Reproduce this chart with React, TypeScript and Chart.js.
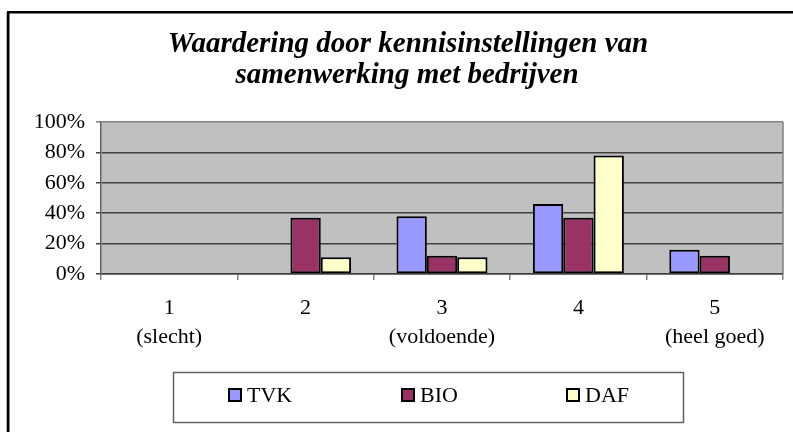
import React, { useEffect, useRef } from "react";
import { Chart, registerables } from "chart.js";

Chart.register(...registerables);

const titleLines = ["Waardering door kennisinstellingen van", "samenwerking met bedrijven"];
const categories: (string | string[])[] = [["1", "(slecht)"], ["2"], ["3", "(voldoende)"], ["4"], ["5", "(heel goed)"]];
const seriesNames = ["TVK", "BIO", "DAF"];
const tvkValues = [0, 0, 38, 46, 16];
const bioValues = [0, 37, 12, 37, 12];
const dafValues = [0, 11, 11, 78, 0];
const seriesColors = ["#9999FF", "#993366", "#FFFFCC"];
const yTicks = [0, 20, 40, 60, 80, 100];

const FONT = "'Liberation Serif', 'Times New Roman', serif";

const decorPlugin = {
  id: "decor",
  beforeDraw(chart: any) {
    const { ctx, chartArea } = chart;
    ctx.save();
    ctx.fillStyle = "#ffffff";
    ctx.fillRect(0, 0, chart.width, chart.height);
    ctx.fillStyle = "#C0C0C0";
    ctx.fillRect(chartArea.left, chartArea.top, chartArea.right - chartArea.left, chartArea.bottom - chartArea.top);
    ctx.restore();
  },
  afterDraw(chart: any) {
    const { ctx, chartArea } = chart;
    ctx.save();
    // plot right border
    ctx.strokeStyle = "#808080";
    ctx.lineWidth = 1.5;
    ctx.beginPath();
    ctx.moveTo(chartArea.right, chartArea.top);
    ctx.lineTo(chartArea.right, chartArea.bottom);
    ctx.stroke();
    // outer frame
    ctx.strokeStyle = "#000";
    ctx.lineWidth = 2.5;
    ctx.beginPath();
    ctx.moveTo(8.25, chart.height + 5);
    ctx.lineTo(8.25, 12.25);
    ctx.lineTo(chart.width + 5, 12.25);
    ctx.stroke();
    ctx.fillStyle = "#b0b0b0";
    ctx.fillRect(6, 12, 1, chart.height);
    // title
    ctx.fillStyle = "#000";
    ctx.font = `italic bold 29px ${FONT}`;
    ctx.textAlign = "center";
    ctx.textBaseline = "alphabetic";
    ctx.fillText(titleLines[0], 408, 52);
    ctx.fillText(titleLines[1], 407, 83);
    // legend
    const lx = 173, ly = 372, lw = 510, lh = 50;
    ctx.strokeStyle = "#606060";
    ctx.lineWidth = 1.5;
    ctx.strokeRect(lx + 0.5, ly + 0.5, lw, lh);
    const markerX = [228, 401, 566];
    ctx.font = `22px ${FONT}`;
    ctx.textAlign = "left";
    ctx.textBaseline = "middle";
    chart.data.datasets.forEach((ds: any, i: number) => {
      const mx = markerX[i];
      ctx.fillStyle = "#000";
      ctx.fillRect(mx, 388, 14, 14);
      ctx.fillStyle = ds.backgroundColor;
      ctx.fillRect(mx + 2, 390, 10, 10);
      ctx.fillStyle = "#000";
      ctx.fillText(ds.label, mx + 19, 396);
    });
    ctx.restore();
  },
};

export default function App() {
  const ref = useRef<HTMLCanvasElement>(null);
  useEffect(() => {
    if (!ref.current) return;
    const valuesList = [tvkValues, bioValues, dafValues];
    const chart = new Chart(ref.current, {
      type: "bar",
      data: {
        labels: categories,
        datasets: seriesNames.map((name, i) => ({
          label: name,
          data: valuesList[i],
          backgroundColor: seriesColors[i],
          borderColor: "#000",
          borderWidth: 2,
          borderSkipped: false,
          categoryPercentage: 0.667,
          barPercentage: 1,
        })),
      },
      options: {
        responsive: false,
        animation: false,
        devicePixelRatio: 1,
        layout: { padding: { top: 122, left: 0, right: 10, bottom: 0 } },
        plugins: {
          legend: { display: false },
          title: { display: false },
          tooltip: { enabled: false },
        },
        scales: {
          x: {
            afterFit: (s: any) => { s.height = 158; },
            grid: {
              offset: true,
              drawOnChartArea: false,
              drawTicks: true,
              tickLength: 6,
              color: "#808080",
              lineWidth: 1.5,
            },
            border: { display: true, color: "#404040", width: 1.5 },
            ticks: {
              color: "#000",
              padding: 14,
              maxRotation: 0,
              autoSkip: false,
              font: { family: FONT, size: 22, lineHeight: 1.32 },
            },
          },
          y: {
            min: 0,
            max: 100,
            afterFit: (s: any) => { s.width = 101; },
            afterBuildTicks: (s: any) => { s.ticks = yTicks.map((v) => ({ value: v })); },
            grid: {
              drawTicks: true,
              tickLength: 5,
              color: (c: any) => (c.tick && c.tick.value === 100 ? "#808080" : "#404040"),
              lineWidth: 1.5,
            },
            border: { display: true, color: "#606060", width: 1.5 },
            ticks: {
              color: "#000",
              padding: 11,
              callback: (v: any) => `${v}%`,
              font: { family: FONT, size: 22 },
            },
          },
        },
      },
      plugins: [decorPlugin],
    });
    return () => chart.destroy();
  }, []);
  return (
    <div style={{ position: "fixed", left: 0, top: 0, width: 793, height: 432 }}>
      <canvas ref={ref} width={793} height={432} style={{ width: 793, height: 432, display: "block" }} />
    </div>
  );
}
